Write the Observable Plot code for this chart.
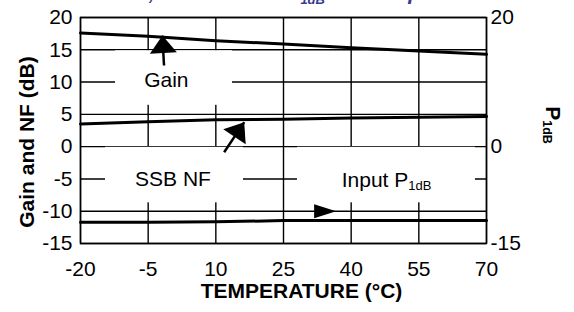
<!DOCTYPE html>
<html><head><meta charset="utf-8">
<script src="https://cdn.jsdelivr.net/npm/d3@7"></script>
<script src="https://cdn.jsdelivr.net/npm/@observablehq/plot@0.6"></script>
<style>
body{margin:0;background:#fff;position:relative;width:574px;height:312px;overflow:hidden}
#title{position:absolute;left:102px;top:-18px;font:italic bold 21px "Liberation Sans",Arial,sans-serif;line-height:21px;color:#3a3a8e;white-space:nowrap;z-index:2}
#title span{font-size:13px;position:relative;top:4px}
#chart{position:absolute;left:0;top:0}
</style></head><body>
<div id="title">Gain, SSB NF and P<span>1dB</span> vs. Temperature</div>
<div id="chart"></div>
<script>
// ---- data ----
const temperature = [-20, -5, 10, 25, 40, 55, 70];
const gain        = [17.6, 17.1, 16.4, 15.9, 15.3, 14.8, 14.3];
const ssbNF       = [3.5, 3.85, 4.15, 4.25, 4.45, 4.55, 4.65];
const inputP1dB   = [-11.7, -11.7, -11.65, -11.45, -11.45, -11.45, -11.45];

const xTicks = [-20, -5, 10, 25, 40, 55, 70];
const yTicksLeft = [20, 15, 10, 5, 0, -5, -10, -15];
const yTicksRight = [20, 0, -15];

const centeredLabels = [
  {text: "Gain", x: -0.98, y: 10.24},
  {text: "SSB NF", x: 0.5, y: -4.98}
];
const startLabels = [
  {text: "Input P1dB", x: 37.9, y: -5.24}
];
const labelBoxes = [
  {x1: -12.24, x2: 13.7, y1: 6.4, y2: 14.85},
  {x1: -14.46, x2: 16.13, y1: -8.7, y2: -0.1},
  {x1: 28.1, x2: 67.55, y1: -8.7, y2: -0.1}
];
const arrows = [
  {name: "Gain", x1: -1.49, y1: 12.57, x2: -1.84, y2: 17.2},
  {name: "SSB NF", x1: 11.84, y1: -0.86, x2: 16.29, y2: 3.79},
  {name: "Input P1dB", x1: 31.85, y1: -10.0, x2: 36.67, y2: -10.0}
];

// ---- layout / style ----
const W = 574, H = 312, mL = 80, mR = 88, mT = 17, mB = 69;
const headSize = {"Gain": [17.5, 27], "SSB NF": [17.5, 27], "Input P1dB": [22, 14]};
const sx = d3.scaleLinear([-20, 70], [mL, W - mR]);
const sy = d3.scaleLinear([-15, 20], [H - mB, mT]);
const fmt = d => String(d);

function headSymbol(angle, L, Wd) {
  const c = Math.cos(angle), s = Math.sin(angle);
  const bx = -L * c, by = -L * s, nx = -s, ny = c;
  return {draw(ctx) {
    ctx.moveTo(0, 0);
    ctx.lineTo(bx + nx * Wd / 2, by + ny * Wd / 2);
    ctx.lineTo(bx - nx * Wd / 2, by - ny * Wd / 2);
    ctx.closePath();
  }};
}

const rows = temperature.map((t, i) => ({t, gain: gain[i], nf: ssbNF[i], p1: inputP1dB[i]}));

const headMarks = arrows.map(a => {
  const ang = Math.atan2(sy(a.y2) - sy(a.y1), sx(a.x2) - sx(a.x1));
  const [L, Wd] = headSize[a.name];
  return Plot.dot([a], {x: "x2", y: "y2", r: 5, symbol: headSymbol(ang, L, Wd), fill: "black", stroke: "none"});
});

const chart = Plot.plot({
  width: W, height: H,
  marginLeft: mL, marginRight: mR, marginTop: mT, marginBottom: mB,
  style: {background: "white", fontFamily: "'Liberation Sans', Arial, sans-serif", fontSize: "21px", color: "black", overflow: "visible"},
  x: {domain: [-20, 70]},
  y: {domain: [-15, 20]},
  marks: [
    Plot.gridX({ticks: xTicks, stroke: "black", strokeOpacity: 1, strokeWidth: 1.4}),
    Plot.gridY({ticks: yTicksLeft, stroke: "black", strokeOpacity: 1, strokeWidth: 1.4}),
    Plot.rect(labelBoxes, {x1: "x1", x2: "x2", y1: "y1", y2: "y2", fill: "white"}),
    Plot.frame({stroke: "black", strokeWidth: 1.5}),
    Plot.line(rows, {x: "t", y: "gain", stroke: "black", strokeWidth: 3}),
    Plot.line(rows, {x: "t", y: "nf", stroke: "black", strokeWidth: 3}),
    Plot.line(rows, {x: "t", y: "p1", stroke: "black", strokeWidth: 3}),
    Plot.link(arrows.slice(0, 2), {x1: "x1", y1: "y1", x2: "x2", y2: "y2", stroke: "black", strokeWidth: 2.5}),
    ...headMarks,
    Plot.text(centeredLabels, {x: "x", y: "y", text: "text", textAnchor: "middle", fill: "black"}),
    Plot.text(startLabels, {x: "x", y: "y", text: "text", textAnchor: "start", fill: "black"}),
    Plot.axisX({ticks: xTicks, tickSize: 0, tickPadding: 18, label: null, tickFormat: fmt}),
    Plot.axisY({ticks: yTicksLeft, anchor: "left", tickSize: 0, tickPadding: 8, label: null, tickFormat: fmt}),
    Plot.axisY({ticks: yTicksRight, anchor: "right", tickSize: 0, tickPadding: 4, label: null, tickFormat: fmt}),
    Plot.text(["TEMPERATURE (°C)"], {frameAnchor: "bottom", textAnchor: "middle", text: d => d, dx: 18, dy: 54.5, fontWeight: "bold"}),
    Plot.text(["Gain and NF (dB)"], {frameAnchor: "left", textAnchor: "middle", text: d => d, rotate: -90, dx: -53.4, dy: 11.5, fontWeight: "bold"}),
    Plot.text(["P1dB"], {frameAnchor: "right", textAnchor: "middle", text: d => d, rotate: 90, dx: 66.7, dy: -5.5, fontWeight: "bold"})
  ]
});

// subscripts
d3.select(chart).selectAll("text").each(function() {
  const t = this.textContent;
  if (/P1dB$/.test(t) && this.childElementCount === 0) {
    const bold = t === "P1dB";
    const sel = d3.select(this);
    sel.text(t.slice(0, -3));
    sel.append("tspan").attr("font-size", bold ? 12.5 : 13).attr("dy", bold ? 3 : 2.5).text("1dB");
  }
});

document.getElementById("chart").appendChild(chart);
</script>
</body></html>
